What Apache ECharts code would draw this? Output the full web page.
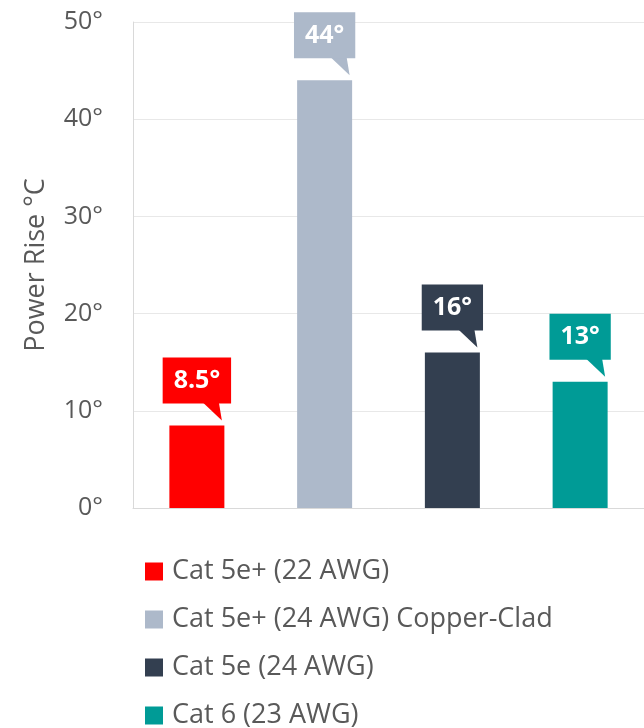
<!DOCTYPE html>
<html>
<head>
<meta charset="utf-8">
<script src="https://cdn.jsdelivr.net/npm/echarts@6/dist/echarts.min.js"></script>
<style>
  html, body { margin: 0; padding: 0; background: #fff; }
  #chart { width: 644px; height: 728px; }
</style>
</head>
<body>
<div id="chart"></div>
<script>
(function(){
	"use strict";

	// 数据
	var seriesNames = ["Cat 5e+ (22 AWG)", "Cat 5e+ (24 AWG) Copper-Clad", "Cat 5e (24 AWG)", "Cat 6 (23 AWG)"];
	var powerRise = [8.5, 44, 16, 13];
	var barColors = ["#FF0000", "#ADB9CA", "#333F50", "#009B96"];
	var yTicks = [0, 10, 20, 30, 40, 50];

	var fontFamily = "'Open Sans', 'DejaVu Sans', sans-serif";
	var textGray = "#595959";

	var chart = echarts.init(document.getElementById("chart"));

	// 每个类别一个系列，堆叠在同一位置
	var barSeries = seriesNames.map(function(name, i){
		var data = powerRise.map(function(v, j){ return j === i ? v : "-"; });
		return {
			name: name,
			type: "bar",
			stack: "all",
			barWidth: 55,
			itemStyle: { color: barColors[i] },
			data: data
		};
	});

	// 标注气泡
	var calloutSeries = {
		type: "custom",
		silent: true,
		z: 10,
		data: powerRise.map(function(v, i){ return [i, v]; }),
		renderItem: function(params, api){
			var idx = params.dataIndex;
			var p = api.coord([api.value(0), api.value(1)]);
			var color = barColors[idx];
			var boxBottom = p[1] - 22;
			return {
				type: "group",
				children: [
					{
						type: "polygon",
						shape: { points: [[p[0] + 6, boxBottom - 1], [p[0] + 22, boxBottom - 1], [p[0] + 25, p[1] - 5]] },
						style: { fill: color }
					},
					{
						type: "text",
						x: p[0],
						y: boxBottom,
						style: {
							text: api.value(1) + "°",
							fill: "#fff",
							font: "bold 25px " + fontFamily,
							align: "center",
							verticalAlign: "bottom",
							backgroundColor: color,
							padding: [11, 11, 10, 11]
						}
					}
				]
			};
		}
	};

	var option = {
		animation: false,
		backgroundColor: "#fff",
		grid: { left: 133, top: 22, width: 518, bottom: 220, containLabel: false },
		legend: {
			orient: "vertical",
			left: 145,
			top: 558,
			height: 220,
			padding: 0,
			icon: "rect",
			itemWidth: 18,
			itemHeight: 18,
			itemGap: 21,
			textStyle: { color: textGray, fontSize: 27, fontFamily: fontFamily, padding: [0, 0, 0, 4] },
			data: seriesNames
		},
		xAxis: {
			type: "category",
			data: seriesNames,
			axisLine: { lineStyle: { color: "#D9D9D9", width: 1 } },
			axisTick: { show: false },
			axisLabel: { show: false }
		},
		yAxis: {
			type: "value",
			min: yTicks[0],
			max: yTicks[yTicks.length - 1],
			interval: 10,
			name: "Power Rise °C",
			nameLocation: "middle",
			nameGap: 83,
			nameTextStyle: { color: textGray, fontSize: 27, fontFamily: fontFamily },
			axisLine: { show: true, lineStyle: { color: "#D9D9D9" } },
			axisTick: { show: false },
			axisLabel: {
				color: textGray,
				fontSize: 25,
				fontFamily: fontFamily,
				margin: 30,
				formatter: "{value}°"
			},
			splitLine: { lineStyle: { color: "#E8E8E8" } }
		},
		series: barSeries.concat([calloutSeries])
	};

	chart.setOption(option);
})();
</script>
</body>
</html>
